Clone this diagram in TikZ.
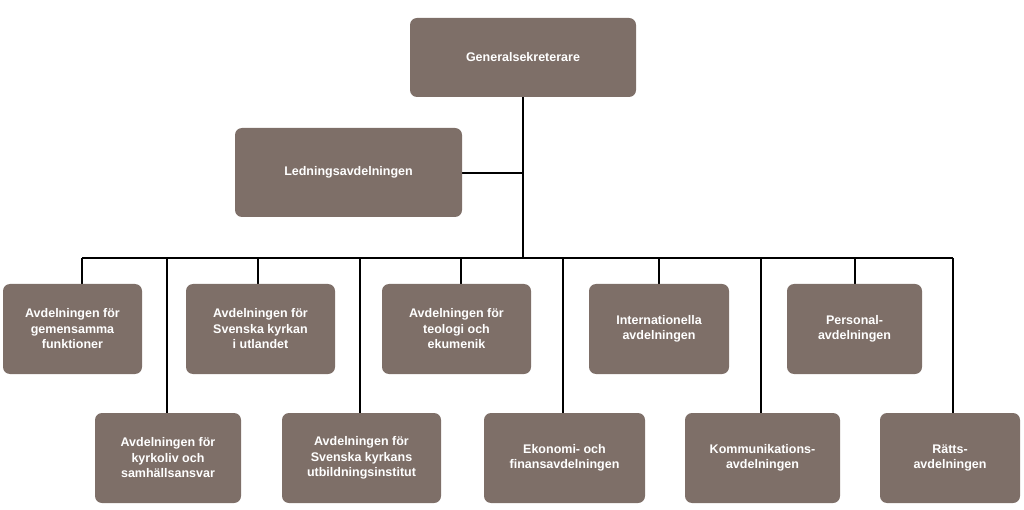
\documentclass[tikz,border=0pt]{standalone}
\usepackage{fontspec}
\setmainfont{Liberation Sans}
\begin{document}
\begin{tikzpicture}[x=1pt,y=-1pt,
  box/.style={fill=boxc,rounded corners=7pt,text=white,font=\fontsize{12.5}{15.5}\selectfont\bfseries,align=center,inner sep=0pt},
  ln/.style={line width=1.1pt,black}]
\definecolor{boxc}{HTML}{7E6F68}
\useasboundingbox (0,0) rectangle (1024,510);
\def\bx#1#2#3#4#5#6{\node[box,minimum width=#4-#2,minimum height=#5-#3] (#1) at ({(#2+#4)/2},{(#3+#5)/2}) {#6};}
\coordinate (t) at (523,258);
\coordinate (bl) at (82,258);
\coordinate (br) at (953,258);
\draw[ln] (523,97) -- (t);
\draw[ln] (462,173) -- (523,173);
\draw[ln] (bl) -- (br);
\foreach \x in {82,258,461,659,855} \draw[ln] (\x,258) -- (\x,284);
\foreach \x in {167,360,563,761,953} \draw[ln] (\x,258) -- (\x,413);
\bx{g}{410}{18}{636}{97}{Generalsekreterare}
\bx{l}{235}{128}{462}{217}{Ledningsavdelningen}
\bx{a1}{3}{284}{142}{374}{Avdelningen för\\gemensamma\\funktioner}
\bx{a2}{186}{284}{335}{374}{Avdelningen för\\Svenska kyrkan\\i utlandet}
\bx{a3}{382}{284}{531}{374}{Avdelningen för\\teologi och\\ekumenik}
\bx{a4}{589}{284}{729}{374}{Internationella\\avdelningen}
\bx{a5}{787}{284}{922}{374}{Personal-\\avdelningen}
\bx{b1}{95}{413}{241}{503}{Avdelningen för\\kyrkoliv och\\samhällsansvar}
\bx{b2}{282}{413}{441}{503}{Avdelningen för\\Svenska kyrkans\\utbildningsinstitut}
\bx{b3}{484}{413}{645}{503}{Ekonomi- och\\finansavdelningen}
\bx{b4}{685}{413}{840}{503}{Kommunikations-\\avdelningen}
\bx{b5}{880}{413}{1020}{503}{Rätts-\\avdelningen}
\end{tikzpicture}
\end{document}
